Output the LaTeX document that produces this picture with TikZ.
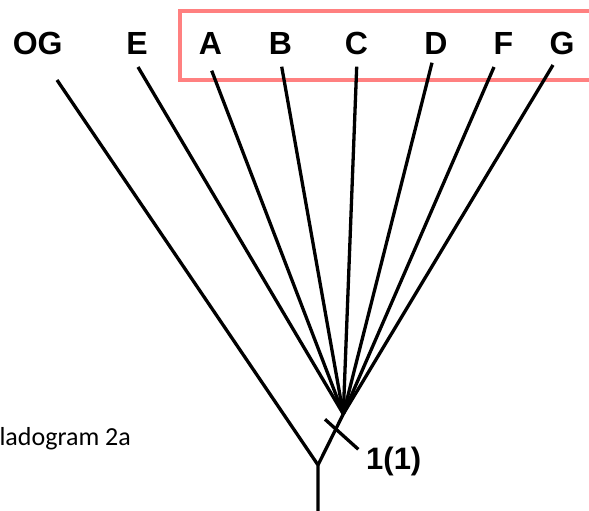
\documentclass[tikz,border=0pt]{standalone}
\usepackage{fontspec}
\setmainfont{Liberation Sans}
\newfontfamily\notefont{Carlito}
\usetikzlibrary{calc}
\definecolor{ink}{HTML}{000000}
\definecolor{boxpink}{HTML}{FF8080}
\tikzset{
  taxon/.style={font=\fontsize{32}{38}\selectfont\bfseries,anchor=base,inner sep=0pt},
  branch/.style={draw=ink,line width=3.3pt,line join=round},
}

\begin{document}
\begin{tikzpicture}[x=1pt,y=-1pt]
    \clip (0,0) rectangle (589,511);
    % ingroup box, right side runs off the page
    \draw[boxpink,line width=4pt] (180,11) rectangle (610,80.5);
    % taxa
    \node[taxon] (OG) at (37.7,55) {OG};
    \node[taxon] (E) at (137,55) {E};
    \node[taxon] (A) at (210.5,55) {A};
    \node[taxon] (B) at (280.5,55) {B};
    \node[taxon] (C) at (356.5,55) {C};
    \node[taxon] (D) at (436,55) {D};
    \node[taxon] (F) at (503.5,55) {F};
    \node[taxon] (G) at (562,55) {G};
    % branch tips
    \coordinate (tOG) at (57,80);
    \coordinate (tE) at (138,67);
    \coordinate (tA) at (211.7,70.7);
    \coordinate (tB) at (281.7,66.7);
    \coordinate (tC) at (356.7,66.7);
    \coordinate (tD) at (432,62.7);
    \coordinate (tF) at (494,67);
    \coordinate (tG) at (553,65);
    % inner nodes
    \coordinate (base) at (318,511);
    \coordinate (root) at (318,465);
    \coordinate (ingroup) at (343.3,414);
    \draw[branch] (base) -- (root) -- (tOG);
    \draw[branch] (root) -- (ingroup);
    \foreach \t in {E,A,B,C,D,F,G}
      \draw[branch] (ingroup) -- (t\t);
    % character 1 on the ingroup stem
    \coordinate (c1a) at (325,419.3);
    \coordinate (c1b) at (358.3,449.3);
    \draw[branch] (c1a) -- (c1b);
    \node[font=\fontsize{31}{36}\selectfont\bfseries,anchor=base west,inner sep=0pt]
      (chr1) at (366,469) {1(1)};
    \node[font=\notefont\fontsize{26}{30}\selectfont,anchor=base east,inner sep=0pt]
      (title) at (131,445) {ladogram 2a};
  \end{tikzpicture}
\end{document}
